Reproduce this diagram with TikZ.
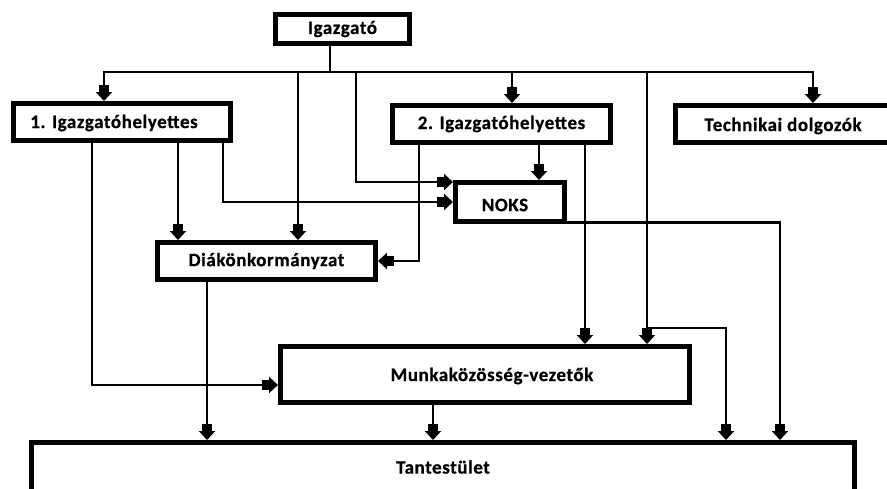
\documentclass[tikz,border=0pt]{standalone}
\usepackage{fontspec}
\setmainfont{Carlito}
\newfontfamily\boxfont{Carlito}[LetterSpace=3,FakeBold=0.6]
\usetikzlibrary{arrows.meta}
\begin{document}
\begin{tikzpicture}[x=1pt,y=-1pt,
  lbl/.style={font=\boxfont\bfseries\fontsize{19}{22}\selectfont,inner sep=0pt},
  orgbox/.style={lbl,draw=black,line width=4.8pt,fill=white,rectangle,outer sep=0pt},
  conn/.style={line width=2.6pt,line cap=rect},
  arr/.style={conn,shorten >=2.4pt,-{Rectangle[width=10pt,length=7pt]Triangle[width=16pt,length=9pt]}}
]
\useasboundingbox (0,0) rectangle (887,488);
\clip (0,0) rectangle (887,488);
\fill[white] (0,0) rectangle (887,488);
% boxes
\node[orgbox,minimum width=134.2pt,minimum height=29.2pt] (ig) at (342.5,29) {Igazgató};
\node[orgbox,minimum width=217.2pt,minimum height=37.2pt] (h1) at (122,122) {};
\node[lbl] (h1t) at (114,123) {1. Igazgatóhelyettes};
\node[orgbox,minimum width=218.2pt,minimum height=37.2pt] (h2) at (501.5,124) {2. Igazgatóhelyettes};
\node[orgbox,minimum width=227.2pt,minimum height=37.2pt] (tech) at (789,124) {};
\node[lbl] (techt) at (783,126) {Technikai dolgozók};
\node[orgbox,minimum width=109.2pt,minimum height=39.2pt] (noks) at (510,202) {};
\node[lbl] (nokst) at (505,205) {NOKS};
\node[orgbox,minimum width=218.2pt,minimum height=37.2pt] (diak) at (266.5,261) {Diákönkormányzat};
\node[orgbox,minimum width=409.2pt,minimum height=56.2pt] (munka) at (485,374.5) {};
\node[lbl] (munkat) at (492,376) {Munkaközösség-vezetők};
\node[orgbox,minimum width=823.2pt,minimum height=49.2pt] (tant) at (443,467) {Tantestület};
% column / row helpers
\coordinate (bus) at (0,72);
\coordinate (cA) at (92,0);
\coordinate (cB) at (178,0);
\coordinate (cC) at (223,0);
\coordinate (cD) at (298,0);
\coordinate (cE) at (330,0);
\coordinate (cF) at (356,0);
\coordinate (cG) at (419,0);
\coordinate (cH) at (512,0);
\coordinate (cI) at (539,0);
\coordinate (cJ) at (585,0);
\coordinate (cK) at (647,0);
\coordinate (cL) at (726,0);
\coordinate (cM) at (780,0);
\coordinate (cN) at (813,0);
\coordinate (cO) at (104,0);
\coordinate (cP) at (207,0);
\coordinate (cQ) at (433,0);
\coordinate (r182) at (0,182);
\coordinate (r202) at (0,202);
\coordinate (r261) at (0,261);
\coordinate (r328) at (0,328);
\coordinate (r385) at (0,385);
\coordinate (r223) at (0,222.5);
% bus
\draw[conn] (ig.south -| cE) -- (bus -| cE);
\draw[conn] (bus -| cO) -- (bus -| cN);
\draw[arr] (bus -| cO) -- (h1.north -| cO);
\draw[arr] (bus -| cD) -- (diak.north -| cD);
\draw[arr] (bus -| cF) |- (noks.west |- r182);
\draw[arr] (bus -| cH) -- (h2.north -| cH);
\draw[arr] (bus -| cK) -- (munka.north -| cK);
\draw[arr] (r328 -| cK) -| (tant.north -| cL);
\draw[arr] (bus -| cN) -- (tech.north -| cN);
% from h1
\draw[arr] (h1.south -| cA) |- (munka.west |- r385);
\draw[arr] (h1.south -| cB) -- (diak.north -| cB);
\draw[arr] (h1.south -| cC) |- (noks.west |- r202);
% from h2
\draw[arr] (h2.south -| cG) |- (diak.east |- r261);
\draw[arr] (h2.south -| cI) -- (noks.north -| cI);
\draw[arr] (h2.south -| cJ) -- (munka.north -| cJ);
% others
\draw[arr] (diak.south -| cP) -- (tant.north -| cP);
\draw[arr] (munka.south -| cQ) -- (tant.north -| cQ);
\draw[arr] (noks.south east |- r223) -| (tant.north -| cM);
\end{tikzpicture}
\end{document}
